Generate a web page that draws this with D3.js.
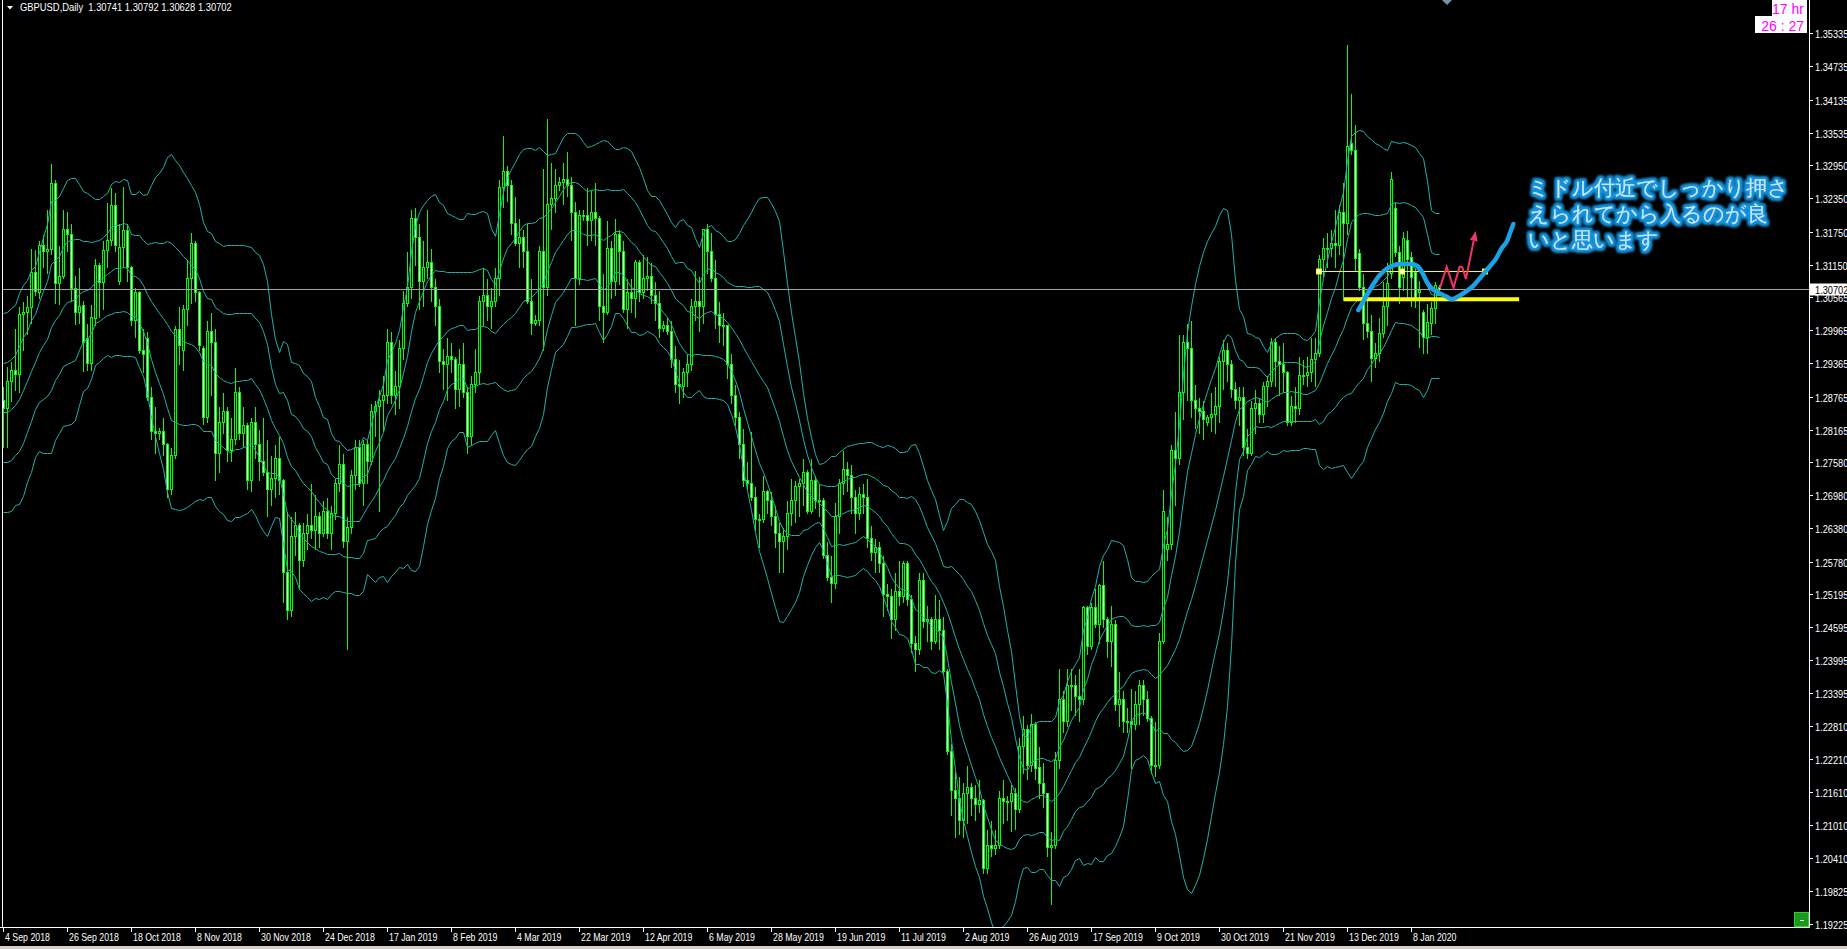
<!DOCTYPE html>
<html>
<head>
<meta charset="utf-8">
<script src="https://cdn.jsdelivr.net/npm/d3@7"></script>
<style>
html, body { margin: 0; background: #000; overflow: hidden; }
text { font-family: "Liberation Sans", Arial, sans-serif; }
</style>
</head>
<body>
<svg id="chart"></svg>
<script>
// closes of the 19 bars before the first visible one (needed for the 20-bar bands)
var priorCloses = [1.2895,1.2823,1.2767,1.2785,1.2733,1.2707,1.2726,1.2737,1.2787,1.2905,
                   1.2914,1.2825,1.2840,1.2902,1.2892,1.3012,1.3023,1.2969,1.2858];

// daily bars [open, high, low, close]
var candles2018 = [
  // Sep
  [1.2870,1.2895,1.2785,1.2855],[1.2855,1.2931,1.2786,1.2905],[1.2905,1.2940,1.2868,1.2925],[1.2925,1.3000,1.2888,1.2918],
  [1.2918,1.3041,1.2884,1.3025],[1.3025,1.3050,1.2960,1.3030],[1.3030,1.3060,1.2990,1.3038],[1.3038,1.3145,1.3010,1.3102],
  [1.3102,1.3144,1.3060,1.3068],[1.3065,1.3160,1.3055,1.3150],[1.3150,1.3170,1.3110,1.3140],[1.3140,1.3215,1.3100,1.3143],
  [1.3143,1.3298,1.3135,1.3262],[1.3262,1.3270,1.3045,1.3082],[1.3082,1.3150,1.3044,1.3094],[1.3094,1.3216,1.3090,1.3180],
  [1.3180,1.3212,1.3140,1.3170],[1.3170,1.3190,1.3050,1.3073],[1.3073,1.3096,1.3007,1.3030],
  // Oct
  [1.3030,1.3110,1.3010,1.3040],[1.3042,1.3052,1.2922,1.2975],[1.2982,1.3010,1.2925,1.2937],[1.2937,1.3043,1.2925,1.3020],
  [1.3018,1.3127,1.3005,1.3114],[1.3114,1.3120,1.3020,1.3084],[1.3084,1.3160,1.3035,1.3141],[1.3141,1.3228,1.3110,1.3160],
  [1.3160,1.3255,1.3150,1.3223],[1.3223,1.3247,1.3140,1.3150],[1.3085,1.3190,1.3080,1.3147],[1.3147,1.3258,1.3110,1.3178],
  [1.3178,1.3190,1.3085,1.3111],[1.3111,1.3114,1.3005,1.3015],[1.3015,1.3075,1.2985,1.3066],[1.3066,1.3070,1.2955,1.2961],
  [1.2961,1.3000,1.2920,1.2953],[1.2982,1.2995,1.2870,1.2875],[1.2875,1.2895,1.2800,1.2815],[1.2815,1.2860,1.2775,1.2810],
  [1.2810,1.2822,1.2800,1.2815],[1.2815,1.2840,1.2770,1.2790],[1.2790,1.2795,1.2695,1.2710],[1.2710,1.2785,1.2700,1.2770],
  // Nov
  [1.2770,1.3005,1.2765,1.2998],[1.2998,1.3040,1.2935,1.2970],[1.2960,1.3043,1.2925,1.3035],[1.3035,1.3125,1.3005,1.3090],
  [1.3090,1.3175,1.3045,1.3155],[1.3155,1.3160,1.3050,1.3065],[1.3065,1.3070,1.2960,1.2970],[1.2965,1.2970,1.2826,1.2840],
  [1.2840,1.3015,1.2830,1.2995],[1.2995,1.3030,1.2880,1.2975],[1.2975,1.3000,1.2725,1.2775],[1.2775,1.2860,1.2740,1.2830],
  [1.2830,1.2885,1.2810,1.2850],[1.2850,1.2860,1.2760,1.2780],[1.2780,1.2840,1.2760,1.2800],[1.2800,1.2930,1.2790,1.2885],
  [1.2885,1.2895,1.2800,1.2810],[1.2810,1.2860,1.2785,1.2825],[1.2825,1.2830,1.2710,1.2725],[1.2725,1.2840,1.2705,1.2830],
  [1.2830,1.2860,1.2765,1.2790],[1.2790,1.2818,1.2725,1.2760],
  // Dec
  [1.2760,1.2840,1.2735,1.2740],[1.2740,1.2800,1.2660,1.2710],[1.2710,1.2770,1.2680,1.2730],[1.2730,1.2790,1.2695,1.2765],
  [1.2765,1.2805,1.2700,1.2725],[1.2725,1.2730,1.2505,1.2560],[1.2560,1.2670,1.2475,1.2490],[1.2490,1.2660,1.2480,1.2625],
  [1.2625,1.2670,1.2590,1.2645],[1.2645,1.2650,1.2530,1.2580],[1.2580,1.2650,1.2570,1.2630],[1.2630,1.2665,1.2600,1.2645],
  [1.2645,1.2720,1.2620,1.2635],[1.2635,1.2700,1.2600,1.2660],[1.2660,1.2670,1.2605,1.2630],[1.2630,1.2690,1.2625,1.2670],
  [1.2670,1.2695,1.2620,1.2630],[1.2630,1.2680,1.2600,1.2665],[1.2665,1.2730,1.2655,1.2720],[1.2720,1.2790,1.2705,1.2755]
];

var candles2019a = [
  // Jan
  [1.2755,1.2775,1.2605,1.2615],[1.2615,1.2660,1.2420,1.2640],[1.2640,1.2745,1.2630,1.2735],[1.2735,1.2800,1.2710,1.2785],
  [1.2785,1.2800,1.2715,1.2720],[1.2720,1.2800,1.2680,1.2790],[1.2790,1.2800,1.2720,1.2760],[1.2760,1.2865,1.2755,1.2850],
  [1.2850,1.2870,1.2805,1.2860],[1.2860,1.2890,1.2670,1.2870],[1.2870,1.2915,1.2815,1.2880],[1.2880,1.3000,1.2865,1.2975],
  [1.2975,1.2995,1.2865,1.2880],[1.2880,1.2925,1.2845,1.2895],[1.2895,1.2980,1.2855,1.2965],[1.2965,1.3070,1.2945,1.3045],
  [1.3045,1.3140,1.3040,1.3075],[1.3075,1.3215,1.3055,1.3200],[1.3200,1.3220,1.3115,1.3165],[1.3165,1.3190,1.3035,1.3085],
  [1.3085,1.3160,1.3040,1.3110],[1.3110,1.3215,1.3090,1.3120],
  // Feb
  [1.3120,1.3145,1.3050,1.3075],[1.3075,1.3090,1.3005,1.3040],[1.3040,1.3055,1.2920,1.2940],[1.2940,1.2965,1.2890,1.2935],
  [1.2935,1.2985,1.2870,1.2950],[1.2950,1.2975,1.2920,1.2945],[1.2945,1.2950,1.2855,1.2890],[1.2890,1.2965,1.2860,1.2935],
  [1.2935,1.2975,1.2875,1.2885],[1.2885,1.2895,1.2775,1.2805],[1.2805,1.2915,1.2790,1.2900],[1.2900,1.2965,1.2885,1.2920],
  [1.2920,1.3060,1.2900,1.3050],[1.3050,1.3110,1.3005,1.3060],[1.3060,1.3090,1.3015,1.3040],[1.3040,1.3075,1.3000,1.3050],
  [1.3050,1.3110,1.3040,1.3090],[1.3090,1.3270,1.3060,1.3255],[1.3255,1.3350,1.3220,1.3285],[1.3285,1.3295,1.3230,1.3260],
  // Mar
  [1.3260,1.3270,1.3170,1.3190],[1.3190,1.3240,1.3150,1.3155],[1.3155,1.3200,1.3110,1.3165],[1.3165,1.3180,1.3110,1.3140],
  [1.3140,1.3190,1.3045,1.3050],[1.3050,1.3090,1.2990,1.3010],[1.3010,1.3025,1.3005,1.3015],[1.3015,1.3150,1.3005,1.3140],
  [1.3140,1.3290,1.2960,1.3075],[1.3075,1.3380,1.3060,1.3225],[1.3225,1.3300,1.3180,1.3235],[1.3235,1.3290,1.3210,1.3260],
  [1.3260,1.3275,1.3250,1.3265],[1.3265,1.3300,1.3225,1.3270],[1.3270,1.3320,1.3240,1.3260],[1.3260,1.3275,1.3160,1.3210],
  [1.3210,1.3230,1.3005,1.3090],[1.3090,1.3215,1.3080,1.3205],[1.3205,1.3215,1.3195,1.3205],[1.3205,1.3255,1.3150,1.3195],
  [1.3195,1.3250,1.3160,1.3210],[1.3210,1.3265,1.3150,1.3200],[1.3200,1.3205,1.3015,1.3040],[1.3040,1.3100,1.2975,1.3030],
  // Apr
  [1.3030,1.3195,1.3025,1.3145],[1.3145,1.3160,1.3055,1.3085],[1.3085,1.3200,1.3060,1.3170],[1.3170,1.3180,1.3080,1.3140],
  [1.3140,1.3160,1.3030,1.3035],[1.3035,1.3090,1.3000,1.3065],[1.3065,1.3090,1.3030,1.3055],[1.3055,1.3125,1.3020,1.3120],
  [1.3120,1.3125,1.3050,1.3065],[1.3065,1.3135,1.3055,1.3090],[1.3090,1.3130,1.3070,1.3095],[1.3095,1.3120,1.3045,1.3060],
  [1.3060,1.3085,1.3015,1.3045],[1.3045,1.3070,1.2985,1.3000],[1.3000,1.3015,1.2995,1.3005],[1.3005,1.3020,1.2990,1.2995],
  [1.2995,1.3015,1.2930,1.2945],[1.2945,1.2970,1.2885,1.2900],[1.2900,1.2945,1.2865,1.2895],[1.2895,1.2930,1.2875,1.2920],
  [1.2920,1.2955,1.2895,1.2935],[1.2935,1.3055,1.2925,1.3040],
  // May
  [1.3040,1.3105,1.3015,1.3050],[1.3050,1.3095,1.2995,1.3040],[1.3040,1.3180,1.3010,1.3180],[1.3180,1.3190,1.3100,1.3140],
  [1.3140,1.3175,1.3085,1.3090],[1.3090,1.3125,1.3000,1.3025],[1.3025,1.3050,1.2975,1.3005],[1.3005,1.3030,1.2970,1.3005],
  [1.3005,1.3005,1.2910,1.2935],[1.2935,1.2955,1.2865,1.2880],[1.2880,1.2900,1.2825,1.2840],[1.2840,1.2850,1.2765,1.2790],
  [1.2790,1.2820,1.2715,1.2725],[1.2725,1.2760,1.2710,1.2720],[1.2720,1.2815,1.2690,1.2695],[1.2695,1.2715,1.2635,1.2655],
  [1.2655,1.2665,1.2605,1.2655],[1.2655,1.2735,1.2650,1.2705],[1.2705,1.2710,1.2665,1.2690],[1.2690,1.2705,1.2645,1.2660],
  [1.2660,1.2680,1.2605,1.2630],[1.2630,1.2650,1.2560,1.2615],[1.2615,1.2640,1.2560,1.2625],
  // Jun
  [1.2625,1.2690,1.2600,1.2665],[1.2665,1.2730,1.2645,1.2690],[1.2690,1.2725,1.2650,1.2715],[1.2715,1.2730,1.2660,1.2720],
  [1.2720,1.2765,1.2680,1.2740],[1.2740,1.2745,1.2665,1.2670],[1.2670,1.2765,1.2665,1.2725],[1.2725,1.2735,1.2675,1.2690],
  [1.2690,1.2720,1.2660,1.2690],[1.2690,1.2695,1.2585,1.2590],[1.2590,1.2615,1.2545,1.2550],[1.2550,1.2590,1.2505,1.2540],
  [1.2540,1.2685,1.2530,1.2660],[1.2660,1.2730,1.2630,1.2720],[1.2720,1.2780,1.2700,1.2745],[1.2745,1.2760,1.2705,1.2735],
  [1.2735,1.2755,1.2665,1.2695],[1.2695,1.2710,1.2630,1.2665],[1.2665,1.2715,1.2655,1.2700],[1.2700,1.2720,1.2665,1.2695]
];

var candles2019b = [
  // Jul
  [1.2695,1.2730,1.2605,1.2620],[1.2620,1.2645,1.2580,1.2595],[1.2595,1.2620,1.2560,1.2605],[1.2605,1.2615,1.2560,1.2575],
  [1.2575,1.2590,1.2480,1.2520],[1.2520,1.2540,1.2490,1.2515],[1.2515,1.2530,1.2440,1.2475],[1.2475,1.2560,1.2455,1.2525],
  [1.2525,1.2580,1.2500,1.2515],[1.2515,1.2580,1.2505,1.2575],[1.2575,1.2580,1.2500,1.2510],[1.2510,1.2520,1.2415,1.2430],
  [1.2430,1.2445,1.2380,1.2420],[1.2420,1.2560,1.2410,1.2545],[1.2545,1.2560,1.2460,1.2470],[1.2470,1.2500,1.2435,1.2475],
  [1.2475,1.2480,1.2420,1.2435],[1.2435,1.2520,1.2430,1.2475],[1.2475,1.2510,1.2420,1.2455],[1.2455,1.2480,1.2375,1.2380],
  [1.2380,1.2385,1.2230,1.2235],[1.2235,1.2250,1.2120,1.2165],[1.2165,1.2200,1.2080,1.2150],
  // Aug
  [1.2150,1.2190,1.2085,1.2110],[1.2110,1.2180,1.2080,1.2160],[1.2160,1.2210,1.2105,1.2170],[1.2170,1.2180,1.2120,1.2150],
  [1.2150,1.2175,1.2110,1.2140],[1.2140,1.2185,1.2125,1.2147],[1.2147,1.2150,1.2015,1.2024],[1.2024,1.2095,1.2015,1.2065],
  [1.2065,1.2110,1.2045,1.2060],[1.2060,1.2095,1.2050,1.2065],[1.2065,1.2165,1.2060,1.2150],[1.2150,1.2185,1.2105,1.2145],
  [1.2145,1.2155,1.2110,1.2145],[1.2145,1.2175,1.2090,1.2160],[1.2160,1.2170,1.2095,1.2130],[1.2130,1.2260,1.2125,1.2245],
  [1.2245,1.2300,1.2195,1.2275],[1.2275,1.2285,1.2185,1.2210],[1.2210,1.2305,1.2200,1.2285],[1.2285,1.2290,1.2185,1.2205],
  [1.2207,1.2245,1.2150,1.2177],[1.2177,1.2215,1.2135,1.2159],
  // Sep
  [1.2159,1.2160,1.2045,1.2061],[1.2061,1.2090,1.1958,1.2066],[1.2066,1.2235,1.2060,1.2220],[1.2220,1.2385,1.2205,1.2330],
  [1.2330,1.2345,1.2270,1.2290],[1.2290,1.2385,1.2280,1.2355],[1.2355,1.2385,1.2310,1.2355],[1.2355,1.2375,1.2300,1.2335],
  [1.2335,1.2385,1.2290,1.2330],[1.2330,1.2500,1.2320,1.2495],[1.2495,1.2500,1.2410,1.2425],[1.2425,1.2505,1.2420,1.2495],
  [1.2495,1.2530,1.2460,1.2465],[1.2465,1.2540,1.2430,1.2535],[1.2535,1.2580,1.2460,1.2475],[1.2475,1.2480,1.2405,1.2435],
  [1.2435,1.2500,1.2390,1.2465],[1.2465,1.2475,1.2310,1.2320],[1.2320,1.2380,1.2280,1.2330],[1.2330,1.2345,1.2270,1.2290],
  [1.2290,1.2315,1.2270,1.2290],
  // Oct
  [1.2290,1.2350,1.2205,1.2285],[1.2285,1.2345,1.2275,1.2320],[1.2320,1.2365,1.2285,1.2355],[1.2355,1.2365,1.2300,1.2330],
  [1.2330,1.2345,1.2290,1.2295],[1.2295,1.2300,1.2195,1.2210],[1.2210,1.2290,1.2190,1.2210],[1.2210,1.2450,1.2205,1.2435],
  [1.2435,1.2710,1.2430,1.2670],[1.2600,1.2660,1.2580,1.2610],[1.2610,1.2790,1.2600,1.2780],[1.2780,1.2850,1.2680,1.2765],
  [1.2765,1.2990,1.2755,1.2885],[1.2885,1.2990,1.2835,1.2975],[1.2975,1.3010,1.2870,1.2965],[1.2965,1.3015,1.2840,1.2870],
  [1.2870,1.2900,1.2820,1.2855],[1.2855,1.2875,1.2810,1.2850],[1.2850,1.2870,1.2800,1.2835],[1.2830,1.2845,1.2825,1.2840],
  [1.2840,1.2885,1.2815,1.2845],[1.2845,1.2895,1.2810,1.2860],[1.2860,1.2950,1.2830,1.2940],[1.2940,1.2980,1.2890,1.2960],
  // Nov
  [1.2960,1.2975,1.2905,1.2935],[1.2935,1.2945,1.2875,1.2890],[1.2890,1.2905,1.2855,1.2870],[1.2870,1.2895,1.2825,1.2875],
  [1.2875,1.2895,1.2770,1.2785],[1.2785,1.2820,1.2765,1.2775],[1.2775,1.2870,1.2770,1.2855],[1.2855,1.2890,1.2810,1.2865],
  [1.2865,1.2875,1.2830,1.2845],[1.2845,1.2905,1.2830,1.2895],[1.2895,1.2915,1.2860,1.2905],[1.2905,1.2985,1.2895,1.2975],
  [1.2975,1.2985,1.2895,1.2940],[1.2940,1.2970,1.2880,1.2935],[1.2935,1.2975,1.2885,1.2920],[1.2920,1.2925,1.2825,1.2830],
  [1.2830,1.2880,1.2825,1.2860],[1.2860,1.2895,1.2830,1.2855],[1.2855,1.2950,1.2845,1.2915],[1.2915,1.2945,1.2900,1.2915],
  [1.2915,1.2950,1.2895,1.2920],
  // Dec
  [1.2920,1.2985,1.2905,1.2945],[1.2945,1.2985,1.2895,1.2955],[1.2955,1.3135,1.2950,1.3125],[1.3125,1.3165,1.3095,1.3145],
  [1.3145,1.3175,1.3110,1.3145],[1.3145,1.3180,1.3130,1.3155],[1.3155,1.3215,1.3110,1.3150],[1.3150,1.3225,1.3135,1.3210],
  [1.3210,1.3265,1.3052,1.3190],[1.3190,1.3514,1.3170,1.3330],[1.3335,1.3425,1.3315,1.3322],[1.3322,1.3370,1.3105,1.3127],
  [1.3136,1.3145,1.3070,1.3075],[1.3075,1.3100,1.2980,1.3010],[1.3010,1.3060,1.2985,1.2995],[1.2995,1.3025,1.2905,1.2946],
  [1.2946,1.2975,1.2930,1.2955],[1.2955,1.3020,1.2940,1.2992],[1.2992,1.3085,1.2985,1.3040],[1.3040,1.3120,1.3005,1.3082],
  [1.3100,1.3285,1.3090,1.3270]
];

var candles2020 = [
  [1.3217,1.3229,1.3130,1.3138],[1.3138,1.3150,1.3045,1.3075],[1.3093,1.3176,1.3070,1.3163],[1.3160,1.3178,1.3056,1.3125],
  [1.3129,1.3140,1.3040,1.3093],[1.3102,1.3110,1.3039,1.3056],[1.3066,1.3088,1.2966,1.3070],[1.3030,1.3035,1.2955,1.2985],
  [1.2985,1.3045,1.2955,1.3012],[1.3010,1.3050,1.2990,1.3037],[1.3037,1.3085,1.3010,1.3078],[1.30741,1.30792,1.30628,1.30702]
];

var candles = candles2018.concat(candles2019a, candles2019b, candles2020);

var symbolTitle = "GBPUSD,Daily";
var lastQuote = [1.30741, 1.30792, 1.30628, 1.30702];

var dateLabels = ["4 Sep 2018","26 Sep 2018","18 Oct 2018","8 Nov 2018","30 Nov 2018","24 Dec 2018",
  "17 Jan 2019","8 Feb 2019","4 Mar 2019","22 Mar 2019","12 Apr 2019","6 May 2019","28 May 2019",
  "19 Jun 2019","11 Jul 2019","2 Aug 2019","26 Aug 2019","17 Sep 2019","9 Oct 2019","30 Oct 2019",
  "21 Nov 2019","13 Dec 2019","8 Jan 2020"];
var barsPerDateLabel = 16;

var priceTicks = [1.35335,1.34735,1.34135,1.33535,1.32950,1.32350,1.31750,1.31150,1.30565,1.29965,
  1.29365,1.28765,1.28165,1.27580,1.26980,1.26380,1.25780,1.25195,1.24595,1.23995,1.23395,1.22810,
  1.22210,1.21610,1.21010,1.20410,1.19825,1.19225];

// hand-drawn marks, as [bar index, price]
var upperLevel = {from: 328.9, mid: 349.65, to: 370.4, price: 1.31036};
var lowerLevel = {from: 335.1, to: 378.9, price: 1.30524};
var blueSketch = [[338.7,1.30330],[340.4,1.30542],[342.05,1.30752],[344.1,1.30963],[345.95,1.31084],
  [347.9,1.31144],[349.95,1.31162],[352.45,1.31157],[353.7,1.31113],[354.8,1.30994],[355.8,1.30842],
  [357.05,1.30723],[358.7,1.30643],[360.8,1.30571],[362.05,1.30524],[363.3,1.30560],[364.95,1.30632],
  [367.05,1.30741],[369.1,1.30904],[370.8,1.31054],[372.9,1.31234],[374.55,1.31446],[375.8,1.31565],
  [376.6,1.31717],[377.45,1.31886]];
var redZigzag = [[359.1,1.30723],[360.8,1.31113],[362.5,1.30734],[364.0,1.31113],[364.7,1.31103],
  [365.6,1.30891],[368.05,1.31759]];
var noteLines = ["ミドル付近でしっかり押さ", "えられてから入るのが良", "いと思います"];
var noteAnchor = [381.1, 1.32410];

var W = 1847, H = 949;
var plotRight = 1809, plotBottom = 927;

var svg = d3.select("#chart").attr("width", W).attr("height", H);
svg.append("rect").attr("width", W).attr("height", H).attr("fill", "#000");
svg.append("rect").attr("y", 946).attr("width", W).attr("height", 3).attr("fill", "#d4d0c8");

var x = d3.scaleLinear().domain([0, 359]).range([3.5, 1439.5]);
var y = d3.scaleLinear().domain([1.19171, 1.35937]).range([plotBottom, 0]);

var defs = svg.append("defs");
defs.append("clipPath").attr("id", "plot").append("rect")
    .attr("x", 3).attr("y", 0).attr("width", plotRight - 3).attr("height", plotBottom);

var glow = defs.append("filter").attr("id", "glow")
    .attr("x", "-10%").attr("y", "-40%").attr("width", "120%").attr("height", "180%");
glow.append("feMorphology").attr("in", "SourceAlpha").attr("operator", "dilate").attr("radius", 1.8).attr("result", "fat");
glow.append("feFlood").attr("flood-color", "#1792dc");
glow.append("feComposite").attr("in2", "fat").attr("operator", "in").attr("result", "blue");
glow.append("feGaussianBlur").attr("in", "blue").attr("stdDeviation", 1.8).attr("result", "soft");
var merge = glow.append("feMerge");
merge.append("feMergeNode").attr("in", "soft");
merge.append("feMergeNode").attr("in", "soft");
merge.append("feMergeNode").attr("in", "soft");
merge.append("feMergeNode").attr("in", "SourceGraphic");

var plot = svg.append("g").attr("clip-path", "url(#plot)");

// candles
var px = function(v) { return Math.round(v) + 0.5; };
var bars = plot.append("g").attr("shape-rendering", "crispEdges");
bars.selectAll("line").data(candles).join("line")
    .attr("x1", function(d, i) { return x(i); })
    .attr("x2", function(d, i) { return x(i); })
    .attr("y1", function(d) { return px(y(d[1])); })
    .attr("y2", function(d) { return px(y(d[2])); })
    .attr("stroke", "#00ff00");
bars.selectAll("rect").data(candles).join("rect")
    .attr("x", function(d, i) { return x(i) - 1; })
    .attr("width", 2)
    .attr("y", function(d) { return px(y(Math.max(d[0], d[3]))); })
    .attr("height", function(d) {
        return Math.max(1, px(y(Math.min(d[0], d[3]))) - px(y(Math.max(d[0], d[3]))));
    })
    .attr("fill", function(d) { return d[3] < d[0] ? "#fff" : "#000"; })
    .attr("stroke", "#00ff00");

// Bollinger bands (20, 1 and 2 deviations)
var allCloses = priorCloses.concat(candles.map(function(d) { return d[3]; }));
var bands = candles.map(function(d, i) {
    var win = allCloses.slice(i, i + 20);
    var m = d3.mean(win);
    var sd = Math.sqrt(d3.mean(win, function(v) { return (v - m) * (v - m); }));
    return {i: i, m: m, sd: sd};
});
[-2, -1, 0, 1, 2].forEach(function(k) {
    plot.append("path").datum(bands)
        .attr("fill", "none")
        .attr("stroke", "#20b2aa")
        .attr("stroke-width", 1)
        .attr("d", d3.line()
            .x(function(d) { return x(d.i); })
            .y(function(d) { return px(y(d.m + k * d.sd)); }));
});

// last price line
var lastY = px(y(lastQuote[3]));
plot.append("line").attr("x1", 3).attr("x2", plotRight).attr("y1", lastY).attr("y2", lastY)
    .attr("stroke", "#a0a0a0");

// frame
svg.append("line").attr("x1", 2.5).attr("x2", 2.5).attr("y1", 0).attr("y2", plotBottom).attr("stroke", "#fff");
svg.append("line").attr("x1", 0).attr("x2", plotRight + 0.5).attr("y1", plotBottom + 0.5).attr("y2", plotBottom + 0.5).attr("stroke", "#fff");
svg.append("line").attr("x1", plotRight + 0.5).attr("x2", plotRight + 0.5).attr("y1", 0).attr("y2", plotBottom + 0.5).attr("stroke", "#fff");

// price axis
var pTick = svg.append("g").selectAll("g").data(priceTicks).join("g")
    .attr("transform", function(d) { return "translate(0," + px(y(d)) + ")"; });
pTick.append("line").attr("x1", 1810).attr("x2", 1813).attr("stroke", "#fff");
pTick.append("text").attr("transform", "translate(1815,4) scale(0.84,1)")
    .attr("fill", "#fff").attr("font-size", "11px")
    .text(function(d) { return d.toFixed(5); });

svg.append("rect").attr("x", 1810).attr("y", lastY - 6).attr("width", 37).attr("height", 12).attr("fill", "#fff");
svg.append("text").attr("transform", "translate(1815," + (lastY + 4) + ") scale(0.84,1)")
    .attr("fill", "#000").attr("font-size", "11px")
    .text(lastQuote[3].toFixed(5));

// date axis
var dTick = svg.append("g").selectAll("g").data(dateLabels).join("g")
    .attr("transform", function(d, k) { return "translate(" + x(k * barsPerDateLabel) + ",0)"; });
dTick.append("line").attr("y1", plotBottom).attr("y2", plotBottom + 5).attr("stroke", "#fff");
dTick.append("text").attr("transform", "translate(1.5,941) scale(0.88,1)")
    .attr("fill", "#fff").attr("font-size", "10px")
    .text(function(d) { return d; });

// header
svg.append("path").attr("d", "M7,6 L13,6 L10,9.5 Z").attr("fill", "#fff");
svg.append("text").attr("transform", "translate(20,11) scale(0.94,1)")
    .attr("fill", "#fff").attr("font-size", "10px").style("white-space", "pre")
    .text(symbolTitle + "  " + lastQuote.map(function(v) { return v.toFixed(5); }).join(" "));

// bar countdown
svg.append("rect").attr("x", 1772).attr("y", 0).attr("width", 35).attr("height", 16).attr("fill", "#fff");
svg.append("rect").attr("x", 1755).attr("y", 16).attr("width", 52).attr("height", 17).attr("fill", "#fff");
svg.append("text").attr("x", 1804).attr("y", 14).attr("text-anchor", "end").attr("fill", "#ff00ff")
    .attr("font-size", "14px").text("17 hr");
svg.append("text").attr("x", 1804).attr("y", 30.5).attr("text-anchor", "end").attr("fill", "#ff00ff")
    .attr("font-size", "14px").text("26 : 27");

// chart shift marker and minimise button
svg.append("path").attr("d", "M1442,0 L1452,0 L1447,5 Z").attr("fill", "#7a8ea4");
svg.append("rect").attr("x", 1794.5).attr("y", 912.5).attr("width", 14).attr("height", 14)
    .attr("fill", "#1a9a1a").attr("stroke", "#33cc33");
svg.append("line").attr("x1", 1800).attr("x2", 1804).attr("y1", 920.5).attr("y2", 920.5).attr("stroke", "#fff");

// drawings
var notes = svg.append("g").attr("clip-path", "url(#plot)");
var upY = px(y(upperLevel.price));
notes.append("line").attr("x1", x(upperLevel.from)).attr("x2", x(upperLevel.to))
    .attr("y1", upY).attr("y2", upY).attr("stroke", "#ffff00").attr("stroke-width", 1);
notes.selectAll("rect.h").data([upperLevel.from, upperLevel.mid, upperLevel.to]).join("rect")
    .attr("class", "h")
    .attr("x", function(d) { return Math.round(x(d)) - 2.5; }).attr("y", upY - 2.5)
    .attr("width", 5).attr("height", 5).attr("fill", "#fff").attr("stroke", "#ffff00");
notes.append("line").attr("x1", x(lowerLevel.from)).attr("x2", x(lowerLevel.to))
    .attr("y1", y(lowerLevel.price)).attr("y2", y(lowerLevel.price))
    .attr("stroke", "#ffff00").attr("stroke-width", 4);

notes.append("path").datum(blueSketch)
    .attr("fill", "none").attr("stroke", "#1ba1e6").attr("stroke-width", 4.5)
    .attr("stroke-linecap", "round").attr("stroke-linejoin", "round")
    .attr("d", d3.line().curve(d3.curveCatmullRom)
        .x(function(d) { return x(d[0]); }).y(function(d) { return y(d[1]); }));

var zig = redZigzag.slice(0, redZigzag.length - 1);
var tip = redZigzag[redZigzag.length - 1];
var tx = x(tip[0]), ty = y(tip[1]);
var prev = zig[zig.length - 1];
var ang = Math.atan2(ty - y(prev[1]), tx - x(prev[0]));
var bx = tx - 10 * Math.cos(ang), by = ty - 10 * Math.sin(ang);
notes.append("path").datum(zig.concat([[x.invert(bx), y.invert(by)]]))
    .attr("fill", "none").attr("stroke", "#f0336a").attr("stroke-width", 2)
    .attr("d", d3.line().x(function(d) { return x(d[0]); }).y(function(d) { return y(d[1]); }));
notes.append("path")
    .attr("d", "M" + tx + "," + ty +
        "L" + (bx + 4 * Math.sin(ang)) + "," + (by - 4 * Math.cos(ang)) +
        "L" + (bx - 4 * Math.sin(ang)) + "," + (by + 4 * Math.cos(ang)) + "Z")
    .attr("fill", "#f0336a");

svg.append("g").selectAll("text").data(noteLines).join("text")
    .attr("x", x(noteAnchor[0]))
    .attr("y", function(d, k) { return y(noteAnchor[1]) + k * 26; })
    .attr("fill", "#bfeaff")
    .attr("font-family", "'Noto Sans CJK JP', sans-serif")
    .attr("font-size", "20.5px")
    .attr("filter", "url(#glow)")
    .text(function(d) { return d; });
</script>
</body>
</html>
